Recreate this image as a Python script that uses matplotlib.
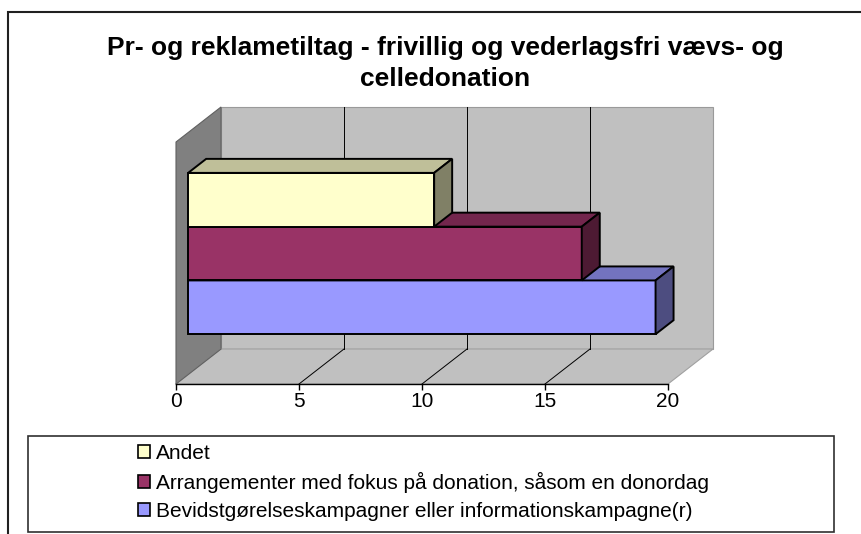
import matplotlib
matplotlib.use("Agg")
import matplotlib.pyplot as plt
from matplotlib.patches import Polygon, Rectangle, Patch
import numpy as np

# ---- data ----
categories = ["Andet",
              "Arrangementer med fokus på donation, såsom en donordag",
              "Bevidstgørelseskampagner eller informationskampagne(r)"]
values = [10, 16, 19]
colors = ["#FFFFCC", "#993366", "#9999FF"]
title = "Pr- og reklametiltag - frivillig og vederlagsfri vævs- og\ncelledonation"
xticks = [0, 5, 10, 15, 20]

plt.rcParams['font.family'] = ['Liberation Sans', 'DejaVu Sans']

W, H = 861, 534
fig = plt.figure(figsize=(W / 100, H / 100), dpi=100)

# outer border
fig.patches.append(Rectangle((8 / W, -0.1), 1.2, 1 - 12 / H + 0.1, transform=fig.transFigure,
                             fill=False, edgecolor="#202020", lw=1.5))

# axes = front plane of the 3D box
ax = fig.add_axes([176 / W, (H - 384) / H, 492 / W, 242 / H])
ax.set_xlim(0, 20)
ax.set_ylim(0, 3)
ax.set_facecolor("none")
for s in ["top", "right", "left"]:
    ax.spines[s].set_visible(False)
ax.spines["bottom"].set_linewidth(1.0)
ax.set_yticks([])
ax.set_xticks(xticks)
ax.tick_params(axis="x", direction="out", length=4.5, width=1.0, pad=1.5, labelsize=15)

Dx, Dy = 1.83, 0.434      # full depth offset in data units
f, b = 0.27, 0.40          # bar front offset and bar depth as fraction of depth
xmax, ymax = 20, 3


def shade(c, k):
    r, g, bb = matplotlib.colors.to_rgb(c)
    return (r * k, g * k, bb * k)


def poly(pts, fc, ec="none", lw=0.0, z=1):
    ax.add_patch(Polygon(pts, closed=True, facecolor=fc, edgecolor=ec, lw=lw,
                         zorder=z, clip_on=False, joinstyle="miter"))


# back wall
poly([(Dx, Dy), (xmax + Dx, Dy), (xmax + Dx, ymax + Dy), (Dx, ymax + Dy)], "#C0C0C0", "#9A9A9A", 0.8, 1)
# left wall
poly([(0, 0), (Dx, Dy), (Dx, ymax + Dy), (0, ymax)], "#808080", "#606060", 0.8, 1)
# floor
poly([(0, 0), (xmax, 0), (xmax + Dx, Dy), (Dx, Dy)], "#C0C0C0", "#A0A0A0", 0.8, 1)
ax.plot([0, Dx], [0, Dy], color="#606060", lw=0.8, zorder=2, clip_on=False)

# gridlines
for t in xticks[1:-1]:
    ax.plot([t + Dx, t + Dx], [Dy, ymax + Dy], color="black", lw=0.7, zorder=2, clip_on=False)
    ax.plot([t, t + Dx], [0, Dy], color="black", lw=0.7, zorder=2, clip_on=False)

# bars: bottom (last category) to top
bar_h = 2.0 / 3
order = list(range(len(categories)))[::-1]
for i, idx in enumerate(order):
    v = values[idx]
    c = colors[idx]
    y0 = 0.5 + i * bar_h
    y1 = y0 + bar_h
    x0 = f * Dx
    yo = f * Dy
    ddx, ddy = b * Dx, b * Dy
    z = 3 + i
    poly([(x0, y0 + yo), (v + x0, y0 + yo), (v + x0, y1 + yo), (x0, y1 + yo)], c, "black", 1.4, z)
    poly([(x0, y1 + yo), (v + x0, y1 + yo), (v + x0 + ddx, y1 + yo + ddy), (x0 + ddx, y1 + yo + ddy)],
         shade(c, 0.75), "black", 1.4, z)
    poly([(v + x0, y0 + yo), (v + x0 + ddx, y0 + yo + ddy), (v + x0 + ddx, y1 + yo + ddy), (v + x0, y1 + yo)],
         shade(c, 0.5), "black", 1.4, z)

# title
fig.text(445 / W, 1 - 63.5 / H, title, ha="center", va="center", fontsize=19,
         fontweight="bold", linespacing=1.42)

# legend box
fig.patches.append(Rectangle((28 / W, 1 - 532 / H), 806 / W, 96 / H, transform=fig.transFigure,
                             fill=False, edgecolor="#303030", lw=1.2))
handles = [Patch(facecolor=c, edgecolor="black", lw=1.2) for c in colors]
fig.legend(handles, categories, loc="upper left", bbox_to_anchor=(138 / W, 1 - 444 / H),
           frameon=False, fontsize=15, handlelength=0.56, handleheight=0.56,
           handletextpad=0.3, labelspacing=0.42, borderpad=0, borderaxespad=0)

fig.savefig("out.png", dpi=100)
